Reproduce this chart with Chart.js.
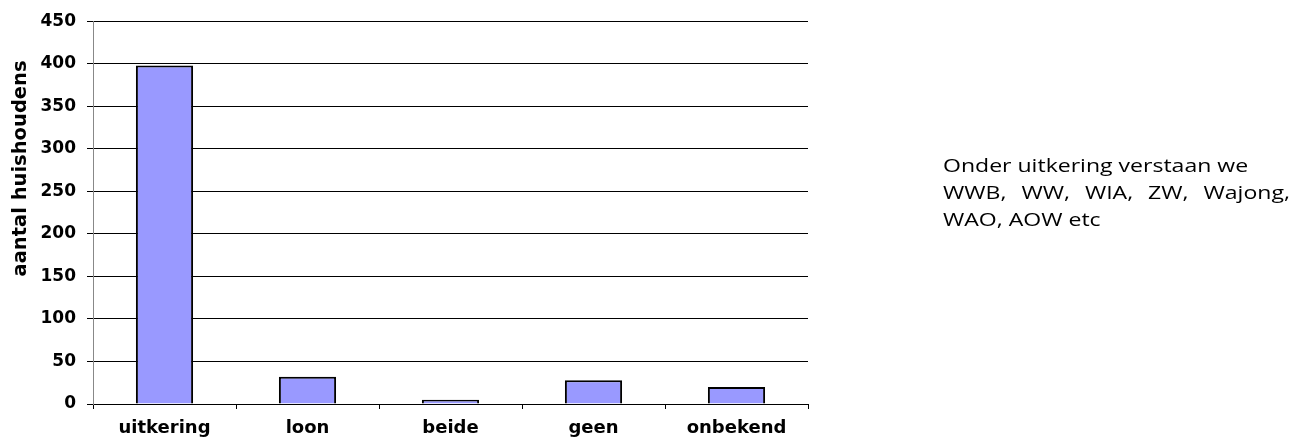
<!DOCTYPE html>
<html>
<head>
<meta charset="utf-8">
<script src="https://cdn.jsdelivr.net/npm/chart.js@4/dist/chart.umd.min.js"></script>
<style>
  html, body { margin: 0; padding: 0; background: #fff; }
  #wrap { position: relative; width: 1296px; height: 438px; }
  #note {
    position: absolute; left: 943px; top: 152px; width: 271px;
    font-family: "Open Sans", sans-serif; font-size: 18px; line-height: 27px;
    color: #000; transform: scaleX(1.28); transform-origin: left top;
  }
  #note .j { text-align: justify; text-align-last: justify; }
</style>
</head>
<body>
<div id="wrap">
  <canvas id="chart" width="1296" height="438"></canvas>
  <div id="note">
    <div>Onder uitkering verstaan we</div>
    <div class="j">WWB, WW, WIA, ZW, Wajong,</div>
    <div>WAO, AOW etc</div>
  </div>
</div>
<script>
const categories = ["uitkering", "loon", "beide", "geen", "onbekend"];
const households = [398, 32, 5, 28, 20];
const yTicks = [0, 50, 100, 150, 200, 250, 300, 350, 400, 450];

const boldFont = "'DejaVu Sans', sans-serif";
const ctx = document.getElementById("chart");

// leading spaces push the rotated title up along the axis, as in the original
const yTitle = " ".repeat(13) + "aantal huishoudens";

new Chart(ctx, {
  type: "bar",
  data: {
    labels: categories,
    datasets: [
      {
        label: "aantal huishoudens",
        data: households,
        backgroundColor: "#9999ff",
        borderColor: "#000",
        borderWidth: 2,
        categoryPercentage: 1,
        barPercentage: 0.4,
      },
    ],
  },
  options: {
    responsive: false,
    animation: false,
    layout: { padding: { top: 21, right: 488, left: 0, bottom: 0 } },
    plugins: {
      legend: { display: false },
      tooltip: { enabled: false },
    },
    scales: {
      x: {
        grid: {
          offset: true,
          drawOnChartArea: false,
          drawTicks: true,
          tickLength: 5,
          color: "#000",
        },
        border: { color: "#000", width: 1 },
        ticks: {
          color: "#000",
          font: { family: boldFont, size: 18, weight: "bold" },
          padding: 9,
        },
        afterFit(scale) {
          scale.height = 34;
        },
      },
      y: {
        min: 0,
        max: 450,
        afterBuildTicks(scale) {
          scale.ticks = yTicks.map((v) => ({ value: v }));
        },
        grid: {
          color: "#000",
          lineWidth: 1,
          tickLength: 6,
        },
        border: { color: "#888", width: 1 },
        ticks: {
          color: "#000",
          font: { family: boldFont, size: 17, weight: "bold" },
          padding: 11,
        },
        title: {
          display: true,
          text: yTitle,
          color: "#000",
          font: { family: boldFont, size: 19.5, weight: "bold" },
          padding: { top: 9, bottom: 4 },
        },
        afterFit(scale) {
          scale.width = 93;
        },
      },
    },
  },
});
</script>
</body>
</html>
